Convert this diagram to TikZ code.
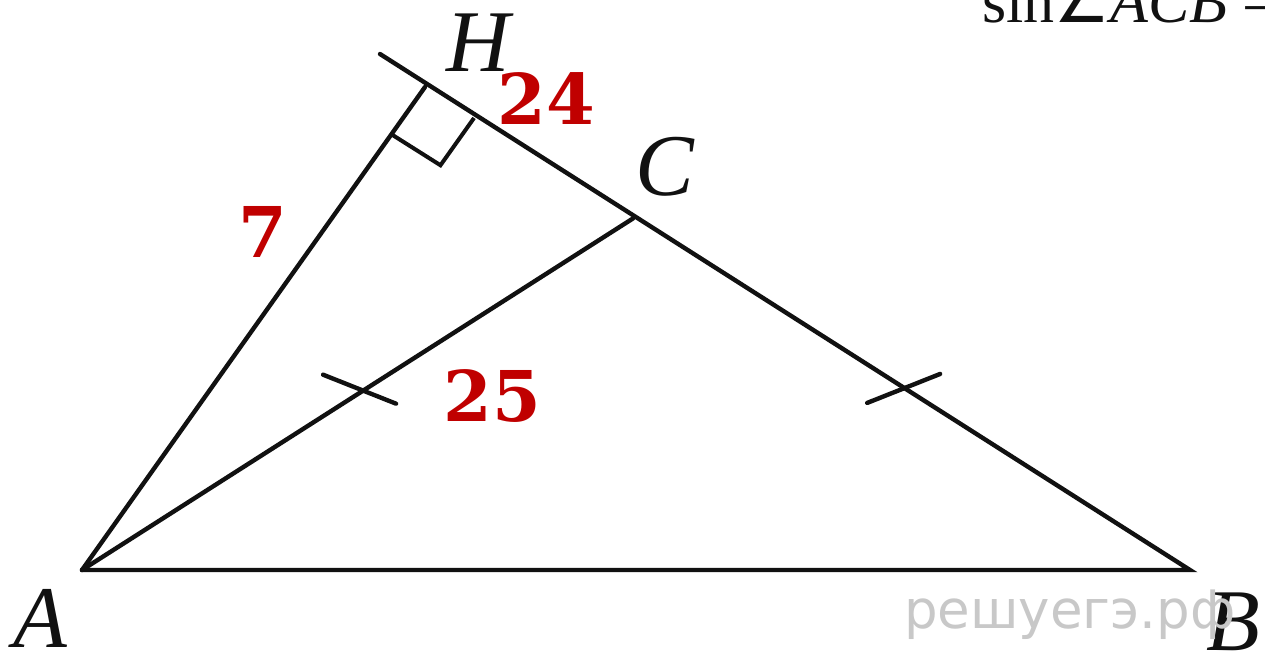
\documentclass[tikz,border=0pt]{standalone}
\usepackage{fontspec}
\setmainfont{Liberation Serif}
\newfontfamily\numfont{DejaVu Serif}
\newfontfamily\wmfont{DejaVu Sans}
\usetikzlibrary{calc}
\definecolor{Ink}{HTML}{111111}
\definecolor{Num}{HTML}{C00000}
\definecolor{Mark}{HTML}{C8C8C8}

\begin{document}
\begin{tikzpicture}[x=1pt,y=-1pt,line width=4.4pt,line cap=round,
  vlab/.style={font=\fontsize{88}{88}\selectfont\itshape,inner sep=0pt,text=Ink},
  nlab/.style={font=\fontsize{70}{70}\selectfont\numfont\bfseries,inner sep=0pt,text=Num}]
  \useasboundingbox (0,0) rectangle (1265,654);
  % points
  \coordinate (A) at (82,570);
  \coordinate (B) at (1190,570);
  \coordinate (H) at (425,87);
  \coordinate (C) at ($(H)!0.272!(B)$);
  \coordinate (L) at (380,54);
  % right angle mark
  \coordinate (Q1) at ($(H)!58pt!(B)$);
  \coordinate (Q2) at ($(H)!58pt!(A)$);
  \coordinate (Q3) at ($(Q1)+(Q2)-(H)$);
  % equal marks
  \coordinate (M1) at ($(A)!0.51!(C)$);
  \coordinate (M2) at ($(C)!0.485!(B)$);
  \coordinate (T1a) at ($(M1)+(-40,-16)$);
  \coordinate (T1b) at ($(M1)+(33,13)$);
  \coordinate (T2a) at ($(M2)+(-36,14)$);
  \coordinate (T2b) at ($(M2)+(37,-15)$);
  \draw[Ink] (A) -- (B) -- (L);
  \draw[Ink] (A) -- (H);
  \draw[Ink] (A) -- (C);
  \draw[Ink,line width=4pt,line cap=butt] (Q1) -- (Q3) -- (Q2);
  \draw[Ink] (T1a) -- (T1b);
  \draw[Ink] (T2a) -- (T2b);
  % labels
  \node[vlab] (labH) at (478,43) {H};
  \node[vlab] (labC) at (665,167) {C};
  \node[vlab] (labA) at (40,618) {A};
  \node[vlab] (labB) at (1233,622) {B};
  \node[nlab] (n24) at (546,99) {24};
  \node[nlab] (n7) at (263,232) {7};
  \node[nlab] (n25) at (492,396) {25};
  \node[font=\fontsize{53}{53}\selectfont\wmfont,text=Mark,anchor=base west,inner sep=0pt] (wm) at (902,628) {решуегэ.рф};
  \node[font=\fontsize{62}{62}\selectfont,text=Ink,anchor=base west,inner sep=0pt] (task) at (980,22) {sin{\wmfont ∠}{\itshape ACB} =};
\end{tikzpicture}
\end{document}
